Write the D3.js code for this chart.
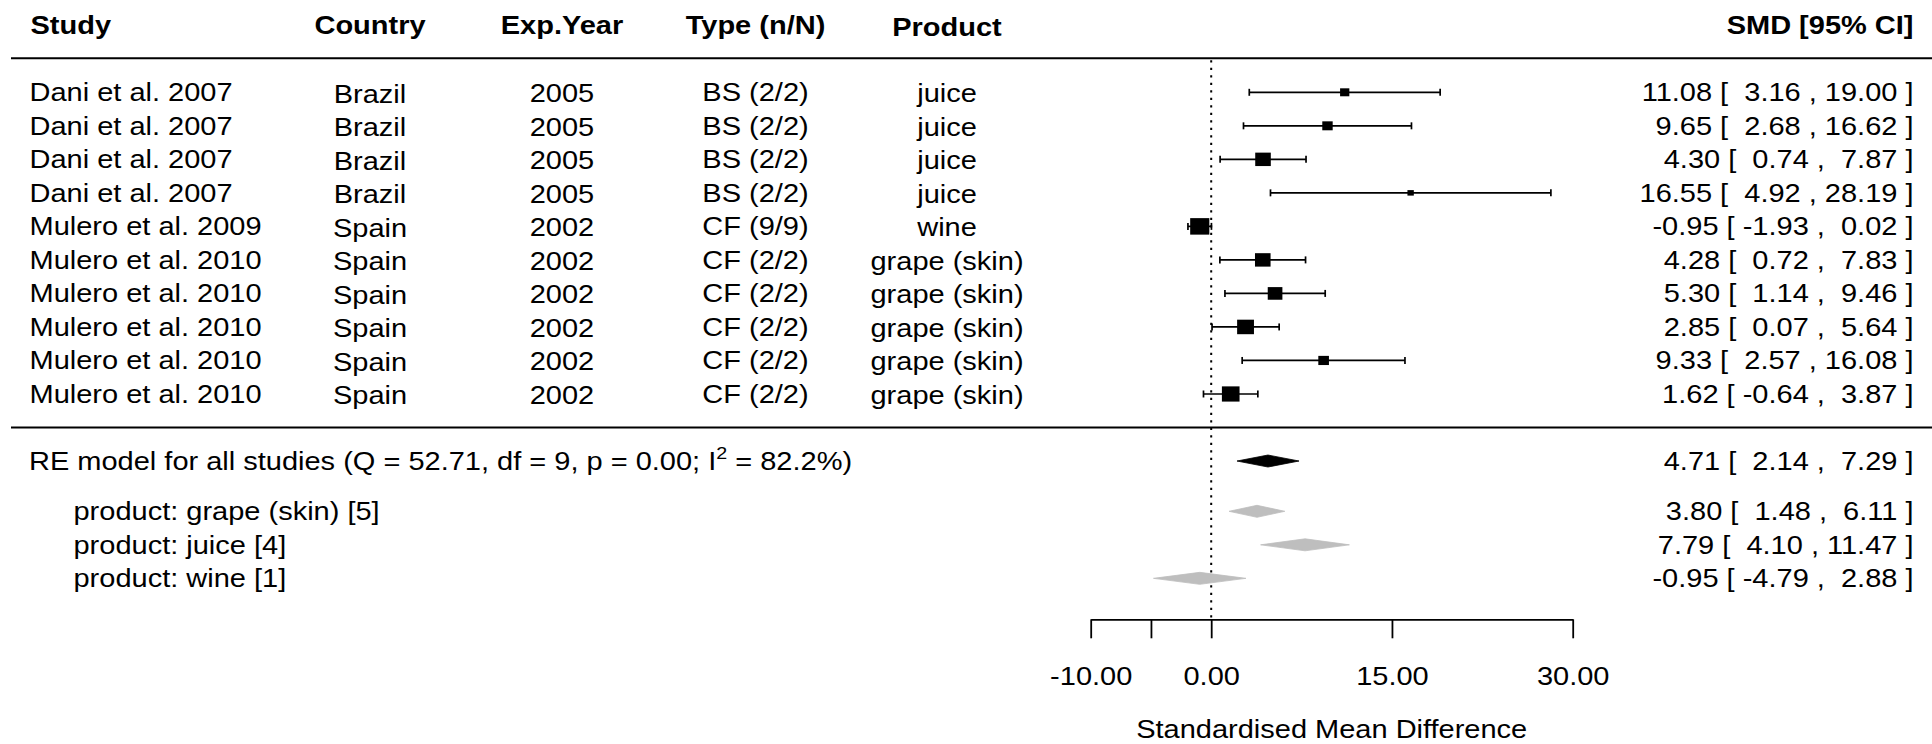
<!DOCTYPE html>
<html><head><meta charset="utf-8">
<script src="https://cdn.jsdelivr.net/npm/d3@7"></script>
<style>
body{margin:0;background:#fff}
svg{display:block}
text{font-family:"Liberation Sans",Arial,sans-serif;fill:#000;white-space:pre}
</style>
</head><body>
<svg id="chart" width="1932" height="744"></svg>
<script>
// ---------- data ----------
const studies   = ["Dani et al. 2007","Dani et al. 2007","Dani et al. 2007","Dani et al. 2007","Mulero et al. 2009","Mulero et al. 2010","Mulero et al. 2010","Mulero et al. 2010","Mulero et al. 2010","Mulero et al. 2010"];
const countries = ["Brazil","Brazil","Brazil","Brazil","Spain","Spain","Spain","Spain","Spain","Spain"];
const years     = ["2005","2005","2005","2005","2002","2002","2002","2002","2002","2002"];
const types     = ["BS (2/2)","BS (2/2)","BS (2/2)","BS (2/2)","CF (9/9)","CF (2/2)","CF (2/2)","CF (2/2)","CF (2/2)","CF (2/2)"];
const products  = ["juice","juice","juice","juice","wine","grape (skin)","grape (skin)","grape (skin)","grape (skin)","grape (skin)"];
const estimates = [11.08, 9.65, 4.30, 16.55, -0.95, 4.28, 5.30, 2.85, 9.33, 1.62];
const lowers    = [3.16, 2.68, 0.74, 4.92, -1.93, 0.72, 1.14, 0.07, 2.57, -0.64];
const uppers    = [19.00, 16.62, 7.87, 28.19, 0.02, 7.83, 9.46, 5.64, 16.08, 3.87];
const weights   = [6.2, 7.2, 11.7, 3.7, 14.8, 11.7, 10.9, 12.8, 7.4, 13.5]; // RE weights (%)

const reEst = 4.71, reLower = 2.14, reUpper = 7.29;
const reQ = 52.71, reDf = 9, reP = 0.00, reI2 = 82.2;

const subgroupNames = ["grape (skin)","juice","wine"];
const subgroupK     = [5, 4, 1];
const subgroupEst   = [3.80, 7.79, -0.95];
const subgroupLower = [1.48, 4.10, -4.79];
const subgroupUpper = [6.11, 11.47, 2.88];

const headers    = ["Study","Country","Exp.Year","Type (n/N)","Product","SMD [95% CI]"];
const tickValues = [-10, -5, 0, 15, 30];
const tickLabels = ["-10.00", "", "0.00", "15.00", "30.00"];
const xTitle     = "Standardised Mean Difference";

// ---------- layout ----------
const W = 1932, H = 744;
const FS = 25, SX = 1.16;
const svg = d3.select("#chart");
const x = d3.scaleLinear().domain([-10, 30]).range([1090.7, 1572.7]);
const y = d3.scaleLinear().domain([0, 10]).range([92.3, 427.5]);
const size = d3.scaleLinear().domain(d3.extent(weights)).range([0.5, 1.5]);
const loc = d3.formatLocale({decimal: ".", thousands: ",", grouping: [3], currency: ["", ""], minus: "-"});
const f2 = loc.format(".2f");
const pad = (s, w) => " ".repeat(Math.max(0, w - s.length)) + s;
function ciLabel(e, lb, ub, wl, wu) {
  return f2(e) + " [ " + pad(f2(lb), wl) + " , " + pad(f2(ub), wu) + " ]";
}
function txt(g, xx, yy, s, anchor, bold) {
  return g.append("text")
    .attr("transform", `translate(${xx},${yy}) scale(${SX},1)`)
    .attr("text-anchor", anchor)
    .attr("font-size", FS)
    .attr("font-weight", bold ? "bold" : null)
    .text(s);
}
const colX = {study: 29.5, country: 370, year: 562, type: 755.5, product: 947, ci: 1913.5};
const baseOff = 8.8;

// header
const gh = svg.append("g");
txt(gh, 30.5, y(-2) + baseOff, headers[0], "start", true);
txt(gh, colX.country, y(-2) + baseOff, headers[1], "middle", true);
txt(gh, colX.year, y(-2) + baseOff, headers[2], "middle", true);
txt(gh, colX.type, y(-2) + baseOff, headers[3], "middle", true);
txt(gh, colX.product, y(-2) + baseOff + 2, headers[4], "middle", true);
txt(gh, colX.ci, y(-2) + baseOff, headers[5], "end", true);

// horizontal rules
svg.append("line").attr("x1", 11).attr("x2", W).attr("y1", y(-1) - 0.5).attr("y2", y(-1) - 0.5)
  .attr("stroke", "#000").attr("stroke-width", 2);
svg.append("line").attr("x1", 11).attr("x2", W).attr("y1", y(10)).attr("y2", y(10))
  .attr("stroke", "#000").attr("stroke-width", 2);

// reference line at 0
const axisY = 619.3;
svg.append("line").attr("x1", x(0)).attr("x2", x(0)).attr("y1", y(-1) + 1.5).attr("y2", axisY)
  .attr("stroke", "#000").attr("stroke-width", 2).attr("stroke-dasharray", "2.2 5.3");

// study rows
const widthLb = d3.max(lowers, v => f2(v).length);
const widthUb = d3.max(uppers, v => f2(v).length);
const gr = svg.append("g");
studies.forEach((s, i) => {
  const yy = y(i);
  txt(gr, colX.study, yy + baseOff, s, "start");
  txt(gr, colX.country, yy + baseOff + 1.5, countries[i], "middle");
  txt(gr, colX.year, yy + baseOff + 1, years[i], "middle");
  txt(gr, colX.type, yy + baseOff, types[i], "middle");
  txt(gr, colX.product, yy + baseOff + 1, products[i], "middle");
  txt(gr, colX.ci, yy + baseOff, ciLabel(estimates[i], lowers[i], uppers[i], widthLb, widthUb), "end");
});

// CI whiskers and squares
const gm = svg.append("g").attr("stroke", "#000").attr("stroke-width", 1.7);
estimates.forEach((e, i) => {
  const yy = y(i);
  gm.append("line").attr("x1", x(lowers[i])).attr("x2", x(uppers[i])).attr("y1", yy).attr("y2", yy);
  gm.append("line").attr("x1", x(lowers[i])).attr("x2", x(lowers[i])).attr("y1", yy - 3.5).attr("y2", yy + 3.5);
  gm.append("line").attr("x1", x(uppers[i])).attr("x2", x(uppers[i])).attr("y1", yy - 3.5).attr("y2", yy + 3.5);
  const h = size(weights[i]) * 11, w = h * SX;
  gm.append("rect").attr("x", x(e) - w / 2).attr("y", yy - h / 2).attr("width", w).attr("height", h)
    .attr("fill", "#000").attr("stroke", "none");
});

// diamonds
function diamond(e, lb, ub, yy, fill) {
  const hh = 6;
  svg.append("polygon")
    .attr("points", [[x(lb), yy], [x(e), yy - hh], [x(ub), yy], [x(e), yy + hh]].map(p => p.join(",")).join(" "))
    .attr("fill", fill).attr("stroke", fill).attr("stroke-width", 0.8);
}

// RE model row
const reY = y(11);
diamond(reEst, reLower, reUpper, reY, "#000");
const reT = txt(svg, 29, reY + baseOff, "", "start");
reT.append("tspan").text(`RE model for all studies (Q = ${f2(reQ)}, df = ${reDf}, p = ${f2(reP)}; I`);
reT.append("tspan").attr("font-size", 17).attr("dy", -11).text("2");
reT.append("tspan").attr("dy", 11).text(` = ${reI2.toFixed(1)}%)`);
txt(svg, colX.ci, reY + baseOff, ciLabel(reEst, reLower, reUpper, 5, 5), "end");

// subgroup rows
const sWl = d3.max(subgroupLower, v => f2(v).length);
const sWu = d3.max(subgroupUpper, v => f2(v).length);
subgroupNames.forEach((n, i) => {
  const yy = y(12.5 + i);
  diamond(subgroupEst[i], subgroupLower[i], subgroupUpper[i], yy, "#bebebe");
  txt(svg, 73.5, yy + baseOff, `product: ${n} [${subgroupK[i]}]`, "start");
  txt(svg, colX.ci, yy + baseOff, ciLabel(subgroupEst[i], subgroupLower[i], subgroupUpper[i], sWl, sWu), "end");
});

// x axis
const axis = d3.axisBottom(x).tickValues(tickValues).tickFormat((d, i) => tickLabels[i])
  .tickSize(19).tickSizeOuter(0);
const ga = svg.append("g").attr("transform", `translate(0,${axisY})`).call(axis);
ga.attr("font-size", null).attr("font-family", null);
ga.selectAll(".domain, .tick line").attr("stroke", "#000").attr("stroke-width", 1.8);
ga.selectAll(".tick text")
  .attr("y", null).attr("dy", null)
  .attr("transform", `translate(0,66) scale(${SX},1)`)
  .attr("font-size", FS).attr("fill", "#000");

txt(svg, x(10), 738, xTitle, "middle");
</script>
</body></html>
